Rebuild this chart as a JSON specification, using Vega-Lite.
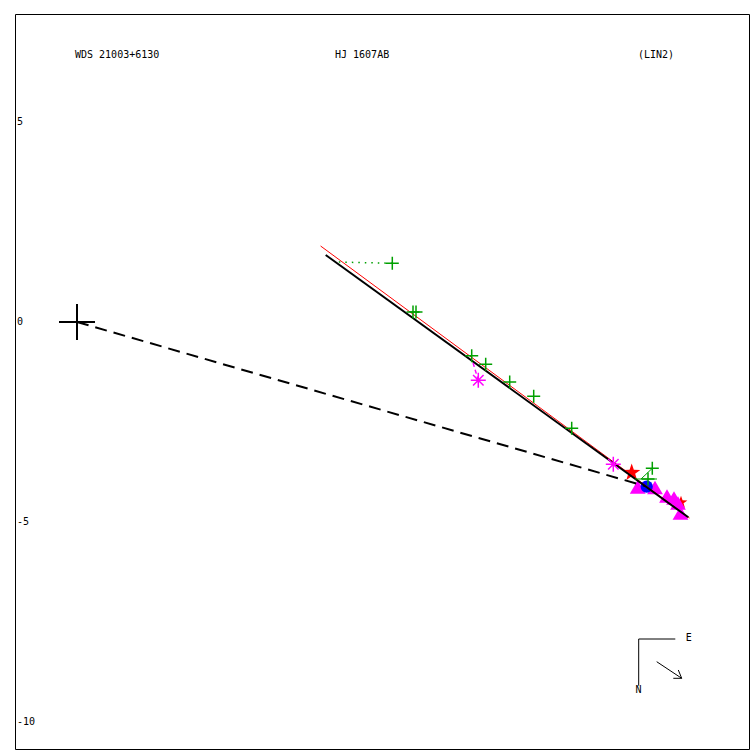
{
  "$schema": "https://vega.github.io/schema/vega-lite/v6.json",
  "width": 734,
  "height": 735,
  "autosize": {"type": "none"},
  "padding": {"left": 15, "top": 14, "right": 1, "bottom": 1},
  "background": "white",
  "config": {"view": {"stroke": "black", "strokeWidth": 1}},
  "data": {"values": [
      {"kind": "red", "x": 6.09, "y": 1.9, "x2": 15.3125, "y2": -4.9},
      {"kind": "fit", "x": 6.2175, "y": 1.675, "x2": 15.2825, "y2": -4.8825},
      {"kind": "node", "x": 0, "y": 0, "x2": 14.2, "y2": -4.1},
      {"kind": "resG", "x": 7.8825, "y": 1.4675, "x2": 6.475, "y2": 1.5},
      {"kind": "resM", "x": 10.0325, "y": -1.4575, "x2": 9.8875, "y2": -0.975},
      {"kind": "resGs", "x": 14.3825, "y": -3.6575, "x2": 14.1, "y2": -3.925},
      {"kind": "resGs", "x": 13.95, "y": -3.925, "x2": 14.5, "y2": -3.925},
      {"kind": "origin", "x": -0.45, "y": 0, "x2": 0.45, "y2": 0},
      {"kind": "origin", "x": 0, "y": 0.45, "x2": 0, "y2": -0.45},
      {"kind": "compass", "x": 14.0425, "y": -7.925, "x2": 14.9575, "y2": -7.925},
      {"kind": "compass", "x": 14.0425, "y": -7.925, "x2": 14.0425, "y2": -9.0925},
      {"kind": "compass", "x": 14.4925, "y": -8.4925, "x2": 15.1175, "y2": -8.9075},
      {"kind": "compass", "x": 15.1175, "y": -8.9075, "x2": 15.0325, "y2": -8.7},
      {"kind": "compass", "x": 15.1175, "y": -8.9075, "x2": 14.9075, "y2": -8.9075},
      {"kind": "star2", "x": 15.1, "y": -4.5125},
      {"kind": "tri", "x": 14.0175, "y": -4.125},
      {"kind": "tri", "x": 14.45, "y": -4.1375},
      {"kind": "tri", "x": 14.75, "y": -4.35},
      {"kind": "tri", "x": 14.925, "y": -4.4},
      {"kind": "tri", "x": 15.025, "y": -4.525},
      {"kind": "tri", "x": 15.0875, "y": -4.775},
      {"kind": "blue", "x": 14.2425, "y": -4.1175},
      {"kind": "star", "x": 13.8675, "y": -3.7675},
      {"kind": "plus", "x": 7.8825, "y": 1.4675},
      {"kind": "plus", "x": 8.4, "y": 0.25},
      {"kind": "plus", "x": 8.475, "y": 0.25},
      {"kind": "plus", "x": 9.8675, "y": -0.8425},
      {"kind": "plus", "x": 10.2175, "y": -1.0575},
      {"kind": "plus", "x": 10.8175, "y": -1.5},
      {"kind": "plus", "x": 11.4175, "y": -1.8575},
      {"kind": "plus", "x": 12.3675, "y": -2.6575},
      {"kind": "plus", "x": 14.3825, "y": -3.6575},
      {"kind": "plus", "x": 14.275, "y": -3.925},
      {"kind": "ast", "x": 10.0325, "y": -1.4575},
      {"kind": "ast", "x": 13.4075, "y": -3.5575},
      {"kind": "text", "t": "WDS 21003+6130", "x": -0.05, "y": 6.675},
      {"kind": "text", "t": "HJ 1607AB", "x": 6.45, "y": 6.675},
      {"kind": "text", "t": "(LIN2)", "x": 14.025, "y": 6.675},
      {"kind": "text", "t": "5", "x": -1.5, "y": 5},
      {"kind": "text", "t": "0", "x": -1.5, "y": 0},
      {"kind": "text", "t": "-5", "x": -1.5, "y": -5},
      {"kind": "text", "t": "-10", "x": -1.5, "y": -10},
      {"kind": "text", "t": "E", "x": 15.22, "y": -7.9},
      {"kind": "text", "t": "N", "x": 13.96, "y": -9.2}
  ]},
  "encoding": {
    "x": {"field": "x", "type": "quantitative", "scale": {"domain": [-1.55, 16.8], "nice": false, "zero": false}, "axis": null},
    "y": {"field": "y", "type": "quantitative", "scale": {"domain": [-10.675, 7.7], "nice": false, "zero": false}, "axis": null}
  },
  "layer": [
    {"transform": [{"filter": "datum.kind == 'text'"}],
     "mark": {"type": "text", "align": "left", "baseline": "middle", "font": "DejaVu Sans Mono", "fontSize": 10, "color": "black"},
     "encoding": {"text": {"field": "t", "type": "nominal"}}},
    {"transform": [{"filter": "datum.kind == 'star2'"}],
     "mark": {"type": "point", "shape": "M0,-1L0.235,-0.324L0.951,-0.309L0.38,0.124L0.588,0.809L0,0.4L-0.588,0.809L-0.38,0.124L-0.951,-0.309L-0.235,-0.324Z", "filled": true, "color": "red", "opacity": 1, "size": 180}},
    {"transform": [{"filter": "datum.kind == 'tri'"}],
     "mark": {"type": "point", "shape": "triangle-up", "filled": true, "color": "#ff00ff", "opacity": 1, "size": 250}},
    {"transform": [{"filter": "datum.kind == 'blue'"}],
     "mark": {"type": "point", "shape": "circle", "filled": true, "color": "#0000ff", "opacity": 1, "size": 150}},
    {"transform": [{"filter": "datum.kind == 'star'"}],
     "mark": {"type": "point", "shape": "M0,-1L0.235,-0.324L0.951,-0.309L0.38,0.124L0.588,0.809L0,0.4L-0.588,0.809L-0.38,0.124L-0.951,-0.309L-0.235,-0.324Z", "filled": true, "color": "red", "opacity": 1, "size": 330}},
    {"transform": [{"filter": "datum.kind == 'red'"}],
     "mark": {"type": "rule", "color": "red", "strokeWidth": 1},
     "encoding": {"x2": {"field": "x2"}, "y2": {"field": "y2"}}},
    {"transform": [{"filter": "datum.kind == 'fit'"}],
     "mark": {"type": "rule", "color": "black", "strokeWidth": 2},
     "encoding": {"x2": {"field": "x2"}, "y2": {"field": "y2"}}},
    {"transform": [{"filter": "datum.kind == 'node'"}],
     "mark": {"type": "rule", "color": "black", "strokeWidth": 2, "strokeDash": [12, 7]},
     "encoding": {"x2": {"field": "x2"}, "y2": {"field": "y2"}}},
    {"transform": [{"filter": "datum.kind == 'resG'"}],
     "mark": {"type": "rule", "color": "#00a000", "strokeWidth": 1.5, "strokeDash": [1.5, 5]},
     "encoding": {"x2": {"field": "x2"}, "y2": {"field": "y2"}}},
    {"transform": [{"filter": "datum.kind == 'resGs'"}],
     "mark": {"type": "rule", "color": "#00a000", "strokeWidth": 1},
     "encoding": {"x2": {"field": "x2"}, "y2": {"field": "y2"}}},
    {"transform": [{"filter": "datum.kind == 'resM'"}],
     "mark": {"type": "rule", "color": "#ff00ff", "strokeWidth": 1.5, "strokeDash": [4, 3]},
     "encoding": {"x2": {"field": "x2"}, "y2": {"field": "y2"}}},
    {"transform": [{"filter": "datum.kind == 'origin'"}],
     "mark": {"type": "rule", "color": "black", "strokeWidth": 2},
     "encoding": {"x2": {"field": "x2"}, "y2": {"field": "y2"}}},
    {"transform": [{"filter": "datum.kind == 'compass'"}],
     "mark": {"type": "rule", "color": "black", "strokeWidth": 1},
     "encoding": {"x2": {"field": "x2"}, "y2": {"field": "y2"}}},
    {"transform": [{"filter": "datum.kind == 'plus'"}],
     "mark": {"type": "point", "shape": "M-1,0L1,0M0,-1L0,1", "filled": false, "color": "#00a000", "opacity": 1, "strokeWidth": 1.5, "size": 169}},
    {"transform": [{"filter": "datum.kind == 'ast'"}],
     "mark": {"type": "point", "shape": "M-1,0L1,0M0,-1L0,1M-0.7,-0.7L0.7,0.7M-0.7,0.7L0.7,-0.7", "filled": false, "color": "#ff00ff", "opacity": 1, "strokeWidth": 1.5, "size": 225}}
  ]
}
